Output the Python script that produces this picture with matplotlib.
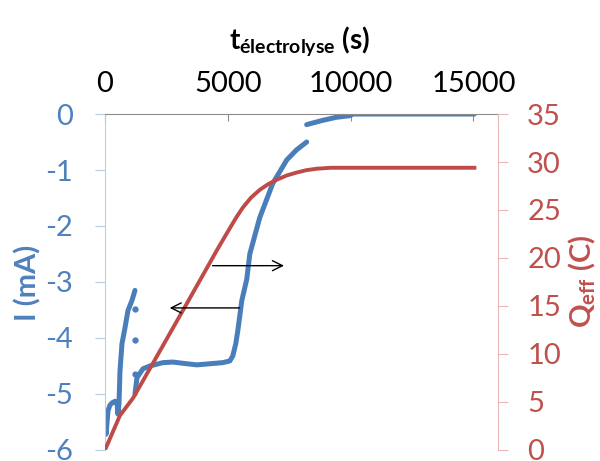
import matplotlib
matplotlib.use("Agg")
import matplotlib.pyplot as plt

plt.rcParams['font.family'] = ['Lato', 'DejaVu Sans']
plt.rcParams['axes.unicode_minus'] = False
plt.rcParams['mathtext.fontset'] = 'custom'
plt.rcParams['mathtext.rm'] = 'Lato'
plt.rcParams['mathtext.bf'] = 'Lato:bold'
plt.rcParams['mathtext.it'] = 'Lato:italic'

# courant I (mA), trois morceaux d'enregistrement
t_i1 = [0, 41, 122, 200, 285, 407, 488, 528, 569, 610, 691, 813, 935, 1098, 1220]
i_1 = [-5.55, -5.72, -5.3, -5.2, -5.16, -5.13, -5.16, -5.36, -5.18, -4.59, -4.10, -3.82, -3.51, -3.33, -3.15]

t_i2 = [1220, 1301, 1545, 1829, 2358, 2764, 3333, 3740, 4268, 4797, 5081, 5203, 5325, 5407,
        5570, 5772, 5895, 6300, 6830, 7400, 7800, 8210]
i_2 = [-5.0, -4.71, -4.55, -4.50, -4.44, -4.43, -4.46, -4.48, -4.46, -4.44, -4.41, -4.32, -4.10, -3.87,
       -3.33, -2.95, -2.50, -1.85, -1.24, -0.82, -0.64, -0.50]

t_i3 = [8210, 8800, 9400, 9960, 10100, 12000, 15040]
i_3 = [-0.19, -0.12, -0.06, -0.03, 0.0, 0.0, 0.0]

t_dots = [1220, 1220, 1220]
i_dots = [-3.48, -4.03, -4.64]

# charge Q_eff (C)
t_q = [0, 610, 1140, 2033, 3374, 4268, 4553, 5081, 5350, 5610, 5950, 6300, 6650, 6990,
       7400, 7800, 8200, 8620, 9200, 15040]
q = [0, 3.6, 5.4, 9.4, 15.45, 19.5, 20.8, 23.1, 24.25, 25.25, 26.3, 27.1, 27.7, 28.15,
     28.6, 28.9, 29.15, 29.3, 29.4, 29.4]

# flèches (début, fin) en t, hauteur en Q
arrow_right = (4268, 7400, 19.2)
arrow_left = (5590, 2520, 14.8)

x_ticks = [0, 5000, 10000, 15000]
i_ticks = [0, -1, -2, -3, -4, -5, -6]
q_ticks = [0, 5, 10, 15, 20, 25, 30, 35]

blue = '#4A7EBB'
blue_txt = '#4F81BD'
red = '#BE4B48'
red_txt = '#C0504D'

fig = plt.figure(figsize=(6, 4.61), dpi=100)
ax = fig.add_axes([0.175, 0.0239, 0.655, 0.7288])
ax.plot(t_i1, i_1, color=blue, lw=3.6, solid_capstyle='round')
ax.plot(t_i2, i_2, color=blue, lw=3.6, solid_capstyle='round')
ax.plot(t_i3, i_3, color=blue, lw=3.6, solid_capstyle='round')
ax.plot(t_dots, i_dots, 'o', color=blue, ms=3.5)
ax.set_xlim(0, 16000)
ax.set_ylim(-6, 0)
ax.set_xticks(x_ticks)
ax.set_yticks(i_ticks)
ax.xaxis.tick_top()
ax.tick_params(axis='x', direction='in', length=5, color='#8C8C8C', labelsize=21, pad=12, labelcolor='black')
ax.tick_params(axis='y', direction='out', length=7, color='#B9CDE5', labelsize=21, pad=16, labelcolor=blue_txt)
ax.spines['bottom'].set_visible(False)
ax.spines['right'].set_visible(False)
ax.spines['top'].set_color('#8C8C8C')
ax.spines['left'].set_color('#B9CDE5')

ax2 = ax.twinx()
ax2.plot(t_q, q, color=red, lw=2.8)
ax2.set_ylim(0, 35)
ax2.set_yticks(q_ticks)
ax2.tick_params(axis='y', direction='out', length=7, color='#E6B9B8', labelsize=21, pad=14, labelcolor=red_txt)
for s in ['top', 'bottom', 'left']:
    ax2.spines[s].set_visible(False)
ax2.spines['right'].set_color('#E6B9B8')

ax2.annotate('', xy=(arrow_right[1], arrow_right[2]), xytext=(arrow_right[0], arrow_right[2]),
             arrowprops=dict(arrowstyle='->', color='black', lw=1, mutation_scale=18))
ax2.annotate('', xy=(arrow_left[1], arrow_left[2]), xytext=(arrow_left[0], arrow_left[2]),
             arrowprops=dict(arrowstyle='->', color='black', lw=1, mutation_scale=18))

fig.text(0.5, 1 - 49 / 461, r'$\mathbf{t_{électrolyse}}$ (s)', ha='center', va='baseline',
         fontsize=20, fontweight='bold', color='black')
fig.text(28 / 600, 1 - 283 / 461, 'I (mA)', rotation=90, ha='center', va='center',
         fontsize=21, fontweight='bold', color=blue_txt)
fig.text(582 / 600, 1 - 281 / 461, r'$\mathbf{Q_{eff}}$ (C)', rotation=90, ha='center', va='center',
         fontsize=21, fontweight='bold', color=red_txt)

fig.savefig('out.png', dpi=100)
